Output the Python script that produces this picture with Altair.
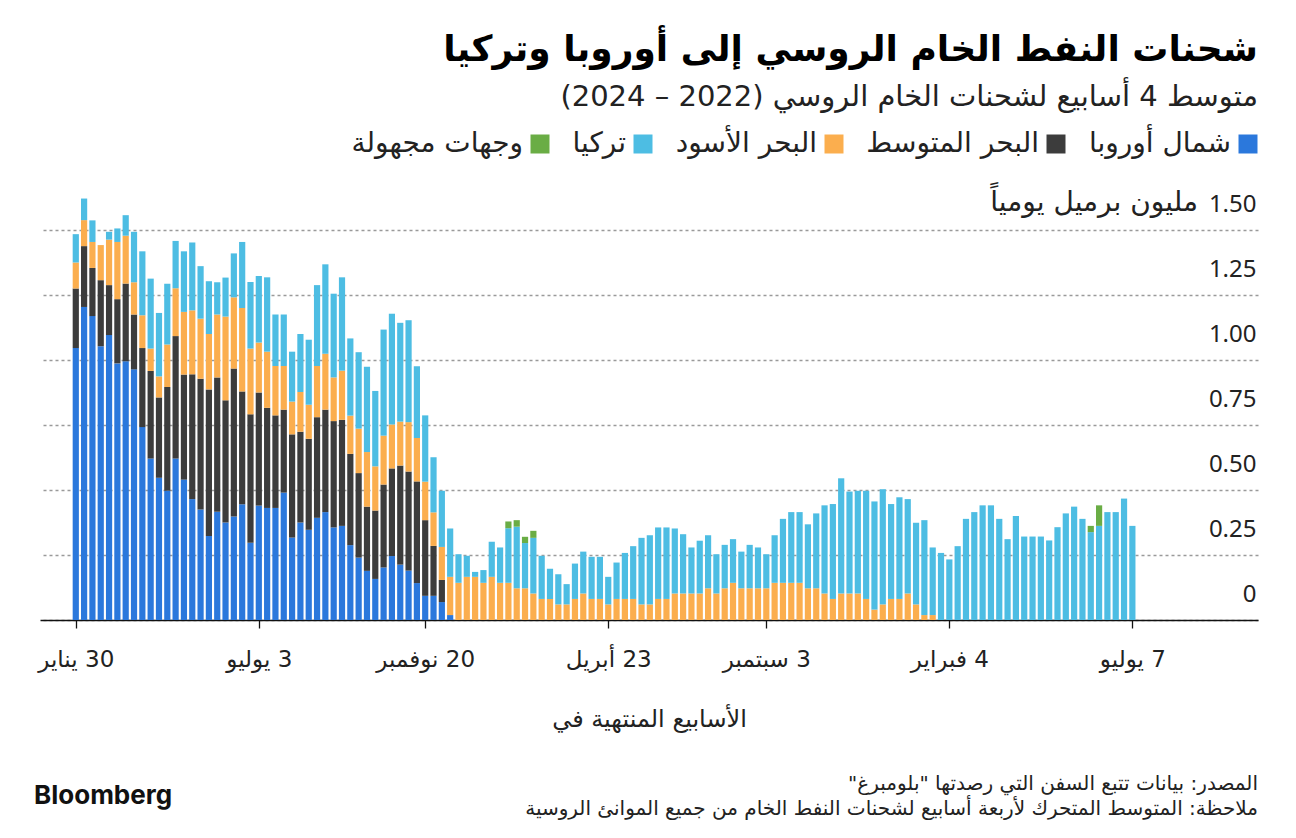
import altair as alt
import pandas as pd

RLM = "\u200f"

def rtl(s):
    return RLM + s + RLM

# ---------------- data ----------------
first_week = "2022-01-30"
n_weeks = 128
week_dates = pd.date_range(first_week, periods=n_weeks, freq="7D")

north_europe = [
    1.046, 1.204, 1.169, 1.053, 1.096, 0.987, 0.995, 0.964, 0.742, 0.621,
    0.547, 0.497, 0.621, 0.540, 0.465, 0.425, 0.323, 0.416, 0.375, 0.398,
    0.445, 0.297, 0.440, 0.431, 0.431, 0.490, 0.317, 0.375, 0.347, 0.393,
    0.415, 0.356, 0.362, 0.288, 0.240, 0.189, 0.158, 0.202, 0.246, 0.213,
    0.190, 0.142, 0.093, 0.093, 0.069, 0.019,
] + [0.0] * 82

mediterranean = [
    0.229, 0.234, 0.185, 0.254, 0.192, 0.247, 0.299, 0.211, 0.304, 0.337,
    0.309, 0.399, 0.471, 0.404, 0.480, 0.503, 0.564, 0.517, 0.470, 0.569,
    0.434, 0.494, 0.435, 0.385, 0.356, 0.319, 0.397, 0.349, 0.350, 0.387,
    0.394, 0.409, 0.408, 0.351, 0.325, 0.247, 0.263, 0.319, 0.337, 0.381,
    0.381, 0.391, 0.291, 0.192, 0.085,
] + [0.0] * 83

black_sea = [
    0.100, 0.100, 0.100, 0.135, 0.175, 0.220, 0.184, 0.124, 0.126, 0.086,
    0.081, 0.164, 0.184, 0.241, 0.246, 0.231, 0.213, 0.242, 0.322, 0.274,
    0.321, 0.253, 0.192, 0.216, 0.190, 0.168, 0.126, 0.153, 0.131, 0.197,
    0.215, 0.168, 0.189, 0.147, 0.171, 0.210, 0.170, 0.188, 0.169, 0.169,
    0.190, 0.167, 0.148, 0.129, 0.127, 0.147, 0.143, 0.166, 0.166, 0.143,
    0.166, 0.143, 0.143, 0.122, 0.122, 0.102, 0.081, 0.081, 0.060, 0.060,
    0.081, 0.102, 0.081, 0.081, 0.060, 0.081, 0.081, 0.081, 0.060, 0.060,
    0.081, 0.081, 0.102, 0.102, 0.102, 0.102, 0.122, 0.102, 0.122, 0.143,
    0.122, 0.122, 0.122, 0.122, 0.143, 0.143, 0.143, 0.143, 0.122, 0.122,
    0.102, 0.081, 0.102, 0.102, 0.102, 0.081, 0.040, 0.060, 0.081, 0.081,
    0.102, 0.060, 0.019, 0.019,
] + [0.0] * 24

turkey = [
    0.109, 0.083, 0.083, 0.000, 0.030, 0.052, 0.079, 0.194, 0.246, 0.269,
    0.244, 0.233, 0.182, 0.233, 0.261, 0.202, 0.203, 0.124, 0.150, 0.169,
    0.254, 0.256, 0.256, 0.286, 0.198, 0.198, 0.192, 0.223, 0.250, 0.311,
    0.344, 0.322, 0.359, 0.297, 0.294, 0.328, 0.290, 0.408, 0.426, 0.380,
    0.392, 0.276, 0.255, 0.212, 0.216, 0.186, 0.110, 0.081, 0.019, 0.049,
    0.135, 0.136, 0.210, 0.237, 0.174, 0.214, 0.166, 0.116, 0.116, 0.078,
    0.136, 0.161, 0.162, 0.162, 0.106, 0.140, 0.177, 0.203, 0.256, 0.266,
    0.275, 0.275, 0.250, 0.228, 0.177, 0.203, 0.204, 0.151, 0.167, 0.168,
    0.141, 0.167, 0.157, 0.131, 0.183, 0.246, 0.272, 0.272, 0.246, 0.288,
    0.339, 0.365, 0.443, 0.392, 0.395, 0.416, 0.416, 0.443, 0.365, 0.391,
    0.363, 0.314, 0.365, 0.260, 0.258, 0.233, 0.284, 0.389, 0.415, 0.441,
    0.441, 0.389, 0.311, 0.400, 0.321, 0.321, 0.321, 0.306, 0.357, 0.410,
    0.436, 0.389, 0.338, 0.362, 0.415, 0.415, 0.467, 0.362,
]

unknown = [0.0] * n_weeks
unknown[52] = 0.026
unknown[53] = 0.025
unknown[54] = 0.024
unknown[55] = 0.027
unknown[122] = 0.024
unknown[123] = 0.079

series_names = ["شمال أوروبا", "البحر المتوسط", "البحر الأسود", "تركيا", "وجهات مجهولة"]
series_colors = ["#2b78dc", "#3c3c3c", "#fbae4e", "#4dbde3", "#6aad45"]
series_values = [north_europe, mediterranean, black_sea, turkey, unknown]

tick_weeks = [0, 22, 42, 64, 83, 105, 127]
tick_labels = ["30 يناير", "3 يوليو", "20 نوفمبر", "23 أبريل", "3 سبتمبر", "4 فبراير", "7 يوليو"]

y_ticks = [0, 0.25, 0.5, 0.75, 1.0, 1.25, 1.5]
y_unit = "مليون برميل يومياً"

title_text = "شحنات النفط الخام الروسي إلى أوروبا وتركيا"
subtitle_text = "متوسط 4 أسابيع لشحنات الخام الروسي (2022 – 2024)"
x_title = "الأسابيع المنتهية في"
source_text = "المصدر: بيانات تتبع السفن التي رصدتها \"بلومبرغ\""
note_text = "ملاحظة: المتوسط المتحرك لأربعة أسابيع لشحنات النفط الخام من جميع الموانئ الروسية"

# ---------------- table ----------------
rows = []
for k, (name, vals) in enumerate(zip(series_names, series_values)):
    for i in range(n_weeks):
        rows.append({
            "week": i,
            "date": week_dates[i].strftime("%Y-%m-%d"),
            "series": rtl(name),
            "stack_order": k,
            "value": vals[i],
        })
df = pd.DataFrame(rows)

W, H = 1218, 390

legend_domain = [rtl(n) for n in series_names][::-1]
legend_range = series_colors[::-1]

tick_label_arr = "[" + ",".join("'" + rtl(t) + "'" for t in tick_labels) + "]"
tick_idx_arr = "[" + ",".join(str(t) for t in tick_weeks) + "]"
x_label_expr = f"{tick_label_arr}[indexof({tick_idx_arr}, datum.value)]"

y_label_expr = "datum.value == 0 ? '0' : format(datum.value, '.2f')"

bars = alt.Chart(df).mark_bar(width=6.2).encode(
    x=alt.X(
        "week:Q",
        scale=alt.Scale(domain=[-3.7, 141.5], nice=False, zero=False),
        axis=alt.Axis(
            values=tick_weeks,
            labelExpr=x_label_expr,
            title=rtl(x_title),
            titleFont="DejaVu Sans",
            titleFontSize=24,
            titleFontWeight="normal",
            titleColor="#222",
            titlePadding=36,
            grid=False,
            domainColor="#111",
            domainWidth=1.5,
            tickColor="#111",
            tickSize=8,
            tickWidth=1.3,
            labelFont="DejaVu Sans",
            labelFontSize=23,
            labelColor="#222",
            labelPadding=20,
            labelFlush=False,
            labelOverlap=False,
        ),
    ),
    y=alt.Y(
        "value:Q",
        stack="zero",
        scale=alt.Scale(domain=[0, 1.5], nice=False),
        axis=alt.Axis(
            orient="right",
            values=y_ticks,
            labelExpr=y_label_expr,
            title=None,
            grid=True,
            gridColor="#9a9a9a",
            gridDash=[3, 3],
            gridWidth=1.4,
            domain=False,
            ticks=False,
            labelAlign="right",
            labelBaseline="alphabetic",
            labelPadding=-2,
            labelOffset=-19,
            labelFont="Noto Sans",
            labelFontSize=24,
            labelColor="#222",
            labelLimit=0,
        ),
    ),
    color=alt.Color(
        "series:N",
        scale=alt.Scale(domain=legend_domain, range=legend_range),
        legend=alt.Legend(
            title=None,
            orient="none",
            direction="horizontal",
            legendX=486,
            legendY=-100,
            symbolType="square",
            symbolSize=361,
            symbolStrokeWidth=0,
            symbolOpacity=1,
            labelFont="DejaVu Sans",
            labelFontSize=28,
            labelColor="#222",
            labelAlign="right",
            labelOffset={"expr": "-31"},
            labelLimit=0,
            columnPadding=22,
        ),
    ),
    order=alt.Order("stack_order:Q", sort="ascending"),
)

unit_df = pd.DataFrame({"t": [rtl(y_unit)]})
unit = alt.Chart(unit_df).mark_text(
    align="right", baseline="alphabetic", font="DejaVu Sans", fontSize=28, color="#222"
).encode(x=alt.value(W - 60), y=alt.value(-19), text="t:N")

foot_df = pd.DataFrame({"t": [rtl(source_text)]})
foot1 = alt.Chart(foot_df).mark_text(
    align="right", baseline="alphabetic", font="DejaVu Sans", fontSize=20, color="#222"
).encode(x=alt.value(W), y=alt.value(H + 170), text="t:N")

note_df = pd.DataFrame({"t": [rtl(note_text)]})
foot2 = alt.Chart(note_df).mark_text(
    align="right", baseline="alphabetic", font="DejaVu Sans", fontSize=20, color="#222"
).encode(x=alt.value(W), y=alt.value(H + 195), text="t:N")

brand_df = pd.DataFrame({"t": ["Bloomberg"]})
brand = alt.Chart(brand_df).mark_text(
    align="left", baseline="alphabetic", font="Inter", fontSize=26, fontWeight="bold", color="#111"
).encode(x=alt.value(-6), y=alt.value(H + 184), text="t:N")

chart = alt.layer(bars, unit, foot1, foot2, brand).properties(
    width=W,
    height=H,
    title=alt.TitleParams(
        text=rtl(title_text),
        subtitle=rtl(subtitle_text),
        anchor="end",
        orient="top",
        font="DejaVu Sans",
        fontSize=36,
        fontWeight="bold",
        color="#000",
        subtitleFont="DejaVu Sans",
        subtitleFontSize=29,
        subtitleColor="#222",
        subtitlePadding=14,
        offset=17,
    ),
    autosize=alt.AutoSizeParams(type="none"),
    padding={"left": 32, "top": 222, "right": 30, "bottom": 206},
).configure_view(stroke=None)

chart.save("out.html", embed_options={"renderer": "svg", "actions": False})
